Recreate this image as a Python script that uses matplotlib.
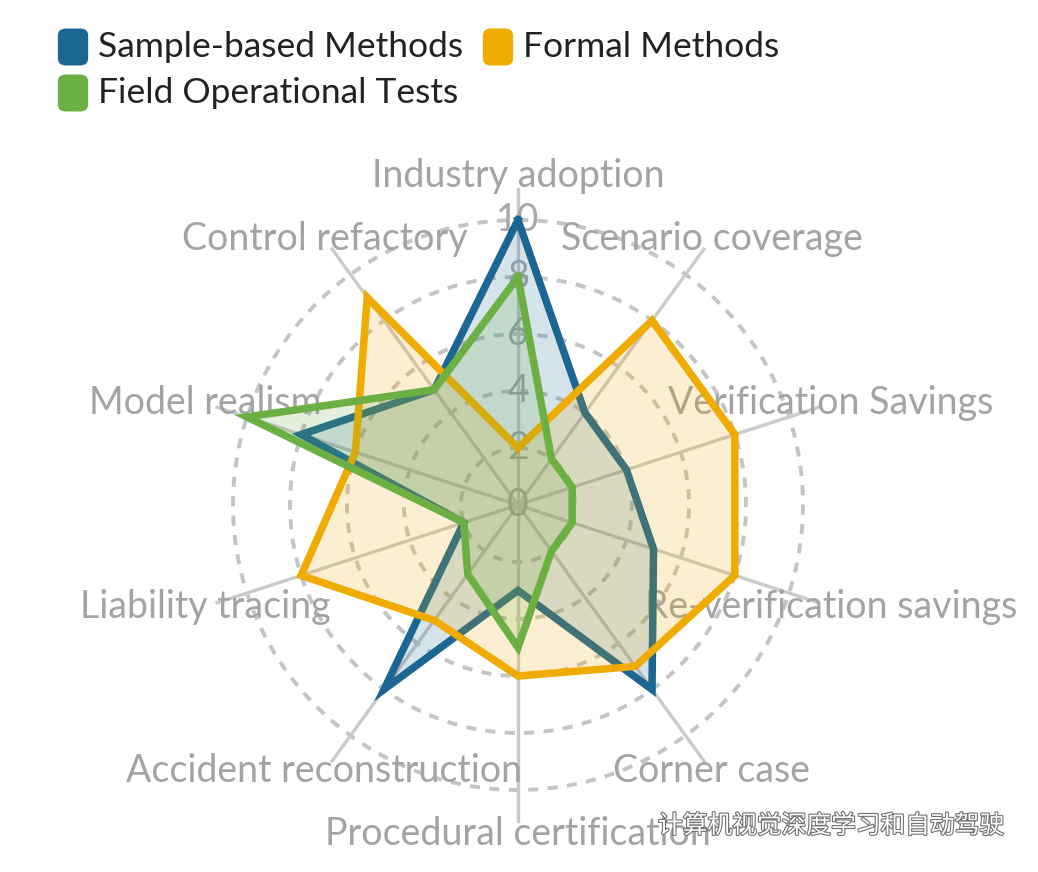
import numpy as np
import matplotlib
matplotlib.use("Agg")
import matplotlib.pyplot as plt
import matplotlib.patheffects as pe
from matplotlib.patches import FancyBboxPatch

plt.rcParams['font.family'] = ['Lato', 'DejaVu Sans']

categories = ["Industry adoption", "Scenario coverage", "Verification Savings",
              "Re-verification savings", "Corner case", "Procedural certification",
              "Accident reconstruction", "Liability tracing", "Model realism",
              "Control refactory"]
sample_based = [10, 4, 4, 5, 8, 3, 8, 2, 8, 5]
formal = [2, 8, 8, 8, 7, 6, 5, 8, 6, 9]
field_tests = [8, 2, 2, 2, 2, 5, 3, 2, 10, 5]
series_names = ["Sample-based Methods", "Formal Methods", "Field Operational Tests"]
colors = ["#1b6693", "#efab00", "#6cb043"]
r_ticks = [0, 2, 4, 6, 8, 10]

W, H = 1038, 872
fig = plt.figure(figsize=(W / 100, H / 100), dpi=100)
cx, cy, R = 518, 872 - 505, 342  # pixels, R = radius at r=12
ax = fig.add_axes([(cx - R) / W, (cy - R) / H, 2 * R / W, 2 * R / H], projection='polar')
ax.set_theta_offset(np.pi / 2)
ax.set_theta_direction(-1)
ax.set_ylim(0, 12)
ax.set_xticks([])
ax.set_yticks([])
ax.grid(False)
ax.spines['polar'].set_visible(False)
ax.patch.set_alpha(0)

n = len(categories)
theta = np.arange(n) * 2 * np.pi / n
full = np.linspace(0, 2 * np.pi, 400)

# dashed rings
for r in r_ticks[1:]:
    ax.plot(full, [r] * len(full), color="#c4c4c4", lw=2.8, ls=(0, (2.6, 2.4)), zorder=1)
# spokes
for t in theta:
    ax.plot([t, t], [0, 11.1], color="#cacaca", lw=2.4, zorder=1)
# ring labels
for r in r_ticks:
    ax.text(0, r, str(r), ha='center', va='center', fontsize=27, color="#a8a8a8", zorder=2)
# category labels
for t, lab in zip(theta, categories):
    ax.text(t, 11.55, lab, ha='center', va='center', fontsize=27, color="#a3a3a3", zorder=2)

for vals, col in zip([sample_based, formal, field_tests], colors):
    tt = np.append(theta, theta[0])
    vv = np.append(vals, vals[0])
    ax.fill(tt, vv, color=col, alpha=0.18, zorder=3, lw=0)
    ax.plot(tt, vv, color=col, lw=5.4, zorder=3, solid_joinstyle='miter')

# legend
legend_pos = [(62, 47), (487, 47), (62, 93)]
for (lx, ly), name, col in zip(legend_pos, series_names, colors):
    fig.patches.append(FancyBboxPatch(((lx) / W, (H - ly - 15) / H), 22 / W, 30 / H,
                                      boxstyle="round,pad=0.004,rounding_size=0.008",
                                      transform=fig.transFigure, facecolor=col, edgecolor='none'))
    fig.text((lx + 36) / W, (H - ly) / H, name, fontsize=25.5, color="#222222", va='center', ha='left')

# watermark
fig.text(658 / W, (H - 826) / H, "计算机视觉深度学习和自动驾驶",
         family=['Noto Sans CJK SC', 'DejaVu Sans'], fontsize=17.8, color='white',
         va='center', ha='left',
         path_effects=[pe.withStroke(linewidth=1.6, foreground='#707070')])

fig.savefig("out.png", dpi=100)
